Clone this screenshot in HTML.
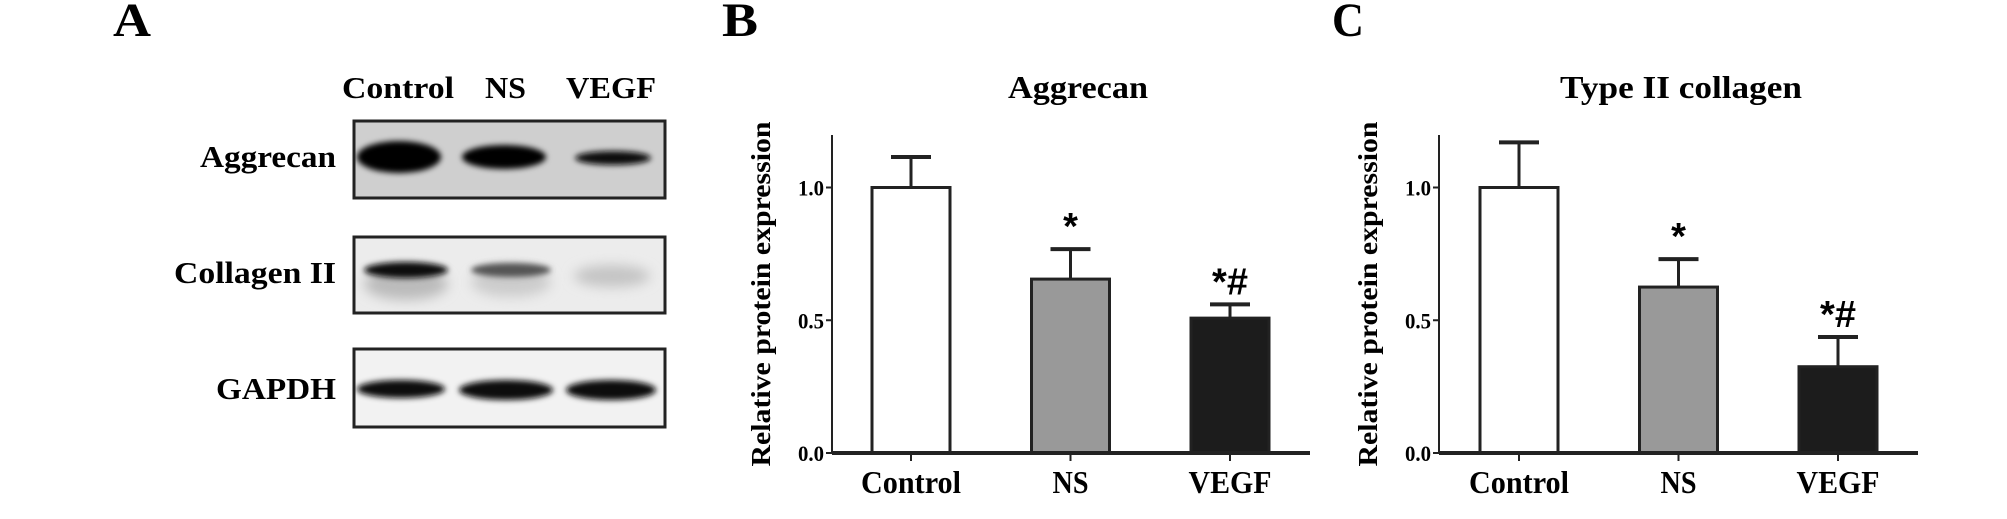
<!DOCTYPE html>
<html><head><meta charset="utf-8"><style>
html,body{margin:0;padding:0;background:#fff;}
svg{display:block;font-family:"Liberation Serif",serif;font-weight:bold;}
</style></head><body>
<svg id="fig" width="2007" height="519" viewBox="0 0 2007 519" xmlns="http://www.w3.org/2000/svg">
<defs>
<filter id="bl" x="-30%" y="-100%" width="160%" height="300%"><feGaussianBlur stdDeviation="3"/></filter>
<filter id="bl2" x="-30%" y="-100%" width="160%" height="300%"><feGaussianBlur stdDeviation="6"/></filter>
</defs>
<g>
<text x="113" y="36" font-size="48" textLength="38" lengthAdjust="spacingAndGlyphs">A</text>
<g font-size="31">
<text x="342" y="98" textLength="112" lengthAdjust="spacingAndGlyphs">Control</text>
<text x="485" y="98" textLength="41" lengthAdjust="spacingAndGlyphs">NS</text>
<text x="566" y="98" textLength="90" lengthAdjust="spacingAndGlyphs">VEGF</text>
</g>
<g font-size="31" text-anchor="end">
<text x="336" y="167" textLength="136" lengthAdjust="spacingAndGlyphs">Aggrecan</text>
<text x="336" y="283" textLength="162" lengthAdjust="spacingAndGlyphs">Collagen II</text>
<text x="336" y="399" textLength="120" lengthAdjust="spacingAndGlyphs">GAPDH</text>
</g>
<g>
<rect x="354" y="121" width="311" height="77" fill="#cfcfcf"/>
<ellipse cx="399" cy="157" rx="42" ry="16" fill="#000" filter="url(#bl)"/>
<ellipse cx="504" cy="157" rx="42" ry="12" fill="#050505" filter="url(#bl)"/>
<ellipse cx="613" cy="158" rx="38" ry="7" fill="#0a0a0a" filter="url(#bl)"/>
<rect x="354" y="121" width="311" height="77" fill="none" stroke="#222" stroke-width="3"/>
</g>
<g>
<rect x="354" y="237" width="311" height="76" fill="#ececec"/>
<ellipse cx="406" cy="284" rx="42" ry="16" fill="#bbb" filter="url(#bl2)"/>
<ellipse cx="406" cy="270" rx="42" ry="8" fill="#111" filter="url(#bl)"/>
<ellipse cx="511" cy="282" rx="40" ry="15" fill="#ccc" filter="url(#bl2)"/>
<ellipse cx="511" cy="270" rx="40" ry="7" fill="#555" filter="url(#bl)"/>
<ellipse cx="612" cy="276" rx="38" ry="11" fill="#c4c4c4" filter="url(#bl2)"/>
<rect x="354" y="237" width="311" height="76" fill="none" stroke="#222" stroke-width="3"/>
</g>
<g>
<rect x="354" y="349" width="311" height="78" fill="#f2f2f2"/>
<ellipse cx="401" cy="389" rx="44" ry="9" fill="#0a0a0a" filter="url(#bl)"/>
<ellipse cx="506" cy="390" rx="47" ry="10" fill="#0a0a0a" filter="url(#bl)"/>
<ellipse cx="611" cy="390" rx="45" ry="10" fill="#0a0a0a" filter="url(#bl)"/>
<rect x="354" y="349" width="311" height="78" fill="none" stroke="#222" stroke-width="3"/>
</g>
</g>
<text x="722" y="36" font-size="48" textLength="36" lengthAdjust="spacingAndGlyphs">B</text>
<text x="1332" y="36" font-size="48" textLength="32" lengthAdjust="spacingAndGlyphs">C</text>
<g id="chartB"></g>
<g id="chartC"></g>
</svg>
<script>
const categories = ["Control", "NS", "VEGF"];
const aggrecanValues = [1.0, 0.655, 0.508];
const aggrecanErrors = [0.115, 0.113, 0.052];
const collagenValues = [1.0, 0.625, 0.325];
const collagenErrors = [0.17, 0.105, 0.112];
const yTicks = [0.0, 0.5, 1.0];
const yTickLabels = ["0.0", "0.5", "1.0"];
const sigB = ["", "*", "*#"];
const sigC = ["", "*", "*#"];
const fills = ["#fff", "#999", "#1c1c1c"];
const labelLens = [100, 36, 83];

const NS = "http://www.w3.org/2000/svg";
function mk(parent, tag, attrs) {
  const e = document.createElementNS(NS, tag);
  for (const k in attrs) e.setAttribute(k, attrs[k]);
  parent.appendChild(e);
  return e;
}
function drawChart(g, title, values, errors, sig, axisX, xEnd, firstCenter, spacing, titleX, titleLen) {
  const y0 = 453, yTop = 135, perUnit = 265.5;
  const yScale = v => y0 - v * perUnit;
  const xScale = i => firstCenter + i * spacing;
  const barW = 78;
  const t = mk(g, "text", {x: titleX, y: 98, "font-size": 32, "text-anchor": "middle", textLength: titleLen, lengthAdjust: "spacingAndGlyphs"});
  t.textContent = title;
  
  
  const yt = mk(g, "text", {x: 0, y: 0, "font-size": 27, "text-anchor": "middle", transform: `translate(${axisX - 62},294) rotate(-90)`, textLength: 345, lengthAdjust: "spacingAndGlyphs"});
  yt.textContent = "Relative protein expression";
  
  
  const ya = mk(g, "line", {x1: axisX, y1: yTop, x2: axisX, y2: y0, stroke: "#222", "stroke-width": 2});
  
  
  yTicks.forEach((v, i) => {
    const tk = mk(g, "line", {x1: axisX - 6, y1: yScale(v), x2: axisX, y2: yScale(v), stroke: "#222", "stroke-width": 2});
    
    
    const tl = mk(g, "text", {x: axisX - 8, y: yScale(v) + 8, "font-size": 22, "text-anchor": "end", textLength: 26, lengthAdjust: "spacingAndGlyphs"});
    tl.textContent = yTickLabels[i];
    
    
  });
  categories.forEach((c, i) => {
    const cx = xScale(i);
    const top = yScale(values[i]);
    const et = yScale(values[i] + errors[i]);
    const el = mk(g, "line", {x1: cx, y1: et, x2: cx, y2: top, stroke: "#222", "stroke-width": 3});
    
    
    const ec = mk(g, "line", {x1: cx - 20, y1: et, x2: cx + 20, y2: et, stroke: "#222", "stroke-width": 4});
    
    
    const b = mk(g, "rect", {x: cx - barW / 2, y: top, width: barW, height: y0 - top, fill: fills[i], stroke: "#222", "stroke-width": 3});
    
    
    const tk = mk(g, "line", {x1: cx, y1: y0, x2: cx, y2: y0 + 8, stroke: "#222", "stroke-width": 2});
    
    
    const xl = mk(g, "text", {x: cx, y: 493, "font-size": 32, "text-anchor": "middle", textLength: labelLens[i], lengthAdjust: "spacingAndGlyphs"});
    xl.textContent = c;
    
    
    if (sig[i]) {
      const s = mk(g, "text", {x: cx, y: et - 10, "font-size": 38, "text-anchor": "middle", "font-family": "Liberation Sans, sans-serif"});
      s.textContent = sig[i];
      
      
    }
  });
  const xa = mk(g, "line", {x1: axisX, y1: y0, x2: xEnd, y2: y0, stroke: "#222", "stroke-width": 4});
  
  
}
drawChart(document.getElementById("chartB"), "Aggrecan", aggrecanValues, aggrecanErrors, sigB, 832, 1310, 911, 159.5, 1078, 140);
drawChart(document.getElementById("chartC"), "Type II  collagen", collagenValues, collagenErrors, sigC, 1439, 1918, 1519, 159.5, 1681, 242);
</script>
</body></html>
